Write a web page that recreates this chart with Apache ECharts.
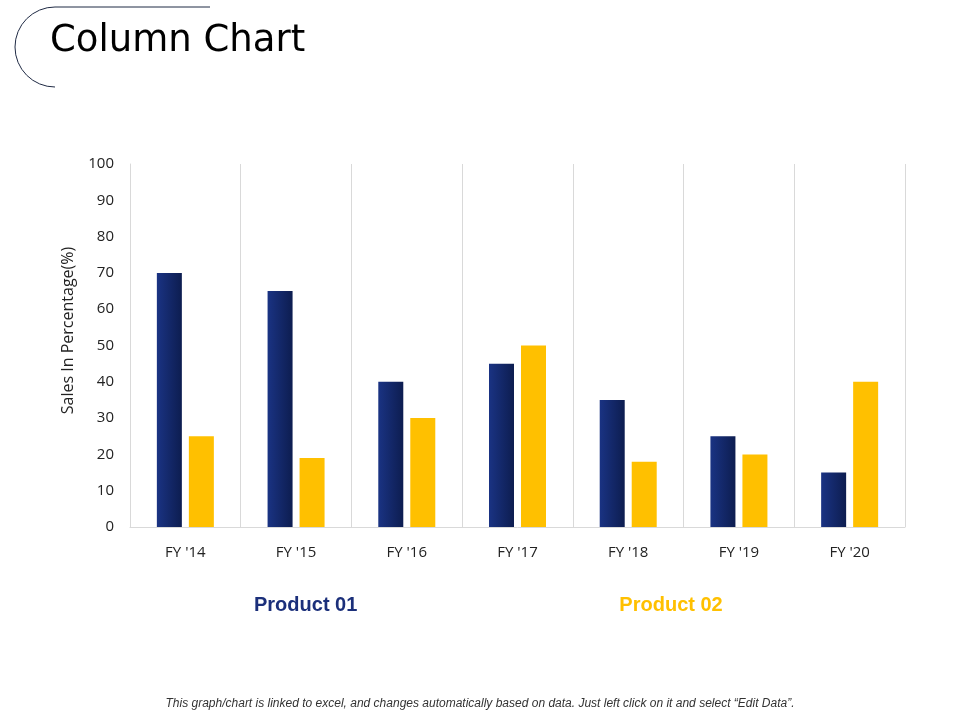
<!DOCTYPE html>
<html>
<head>
<meta charset="utf-8">
<script src="https://cdn.jsdelivr.net/npm/echarts@6/dist/echarts.min.js"></script>
<style>
  html, body { margin: 0; padding: 0; background: #fff; }
  #chart { width: 960px; height: 720px; }
</style>
</head>
<body>
<div id="chart"></div>
<script>
var categories = ["FY '14", "FY '15", "FY '16", "FY '17", "FY '18", "FY '19", "FY '20"]
var product01 = [70, 65, 40, 45, 35, 25, 15]
var product02 = [25, 19, 30, 50, 18, 20, 40]

// navy bars shade from left to right
var navy = {
  type: 'linear',
  x: 0, y: 0, x2: 1, y2: 0,
  colorStops: [
    { offset: 0, color: '#1a3383' },
    { offset: 1, color: '#0d1d50' }
  ]
}
var yellow = '#ffc000'
var labelFont = '"Open Sans", "Noto Sans", sans-serif'

var chart = echarts.init(document.getElementById('chart'))

chart.setOption({
  animation: false,
  grid: { left: 130, right: 55, top: 164, bottom: 193 },
  legend: {
    left: 244,
    top: 590,
    icon: 'none',
    itemGap: 257,
    itemWidth: 0,
    selectedMode: false,
    textStyle: { fontFamily: 'Arial, "Liberation Sans", sans-serif', fontSize: 20, fontWeight: 'bold' },
    data: [
      { name: 'Product 01', textStyle: { color: '#1b2f7a' } },
      { name: 'Product 02', textStyle: { color: yellow } }
    ]
  },
  xAxis: {
    type: 'category',
    data: categories,
    axisLine: { lineStyle: { color: '#d9d9d9' } },
    axisTick: { show: false },
    splitLine: { show: true, lineStyle: { color: '#d9d9d9' } },
    axisLabel: { color: '#222', fontSize: 15, fontFamily: labelFont, margin: 18 }
  },
  yAxis: {
    type: 'value',
    min: 0,
    max: 100,
    interval: 10,
    name: 'Sales In Percentage(%)',
    nameLocation: 'middle',
    nameGap: 54,
    nameTextStyle: { color: '#222', fontSize: 16, fontFamily: labelFont, padding: [0, 0, 0, 30] },
    axisLine: { show: true, lineStyle: { color: '#d9d9d9' } },
    axisTick: { show: false },
    splitLine: { show: false },
    axisLabel: { color: '#222', fontSize: 15, fontFamily: labelFont, margin: 16 }
  },
  series: [
    {
      name: 'Product 01',
      type: 'bar',
      data: product01,
      barWidth: 25,
      barGap: '28%',
      itemStyle: { color: navy }
    },
    {
      name: 'Product 02',
      type: 'bar',
      data: product02,
      barWidth: 25,
      itemStyle: { color: yellow }
    }
  ],
  graphic: [
    {
      type: 'line',
      shape: { x1: 55, y1: 7, x2: 210, y2: 7 },
      style: { stroke: '#1f2a44', lineWidth: 1 }
    },
    {
      type: 'arc',
      shape: { cx: 55, cy: 47, r: 40, startAngle: Math.PI / 2, endAngle: Math.PI * 1.5, clockwise: true },
      style: { fill: null, stroke: '#1f2a44', lineWidth: 1 }
    },
    {
      type: 'text',
      left: 50,
      top: 23,
      style: { text: 'Column Chart', font: '37px Verdana, "DejaVu Sans", sans-serif', fill: '#000' }
    },
    {
      type: 'text',
      left: 'center',
      top: 698,
      style: {
        text: 'This graph/chart is linked to excel, and changes automatically based on data. Just left click on it and select \u201cEdit Data\u201d.',
        font: 'italic 12px Arial, "Liberation Sans", sans-serif',
        fill: '#333'
      }
    }
  ]
})
</script>
</body>
</html>
